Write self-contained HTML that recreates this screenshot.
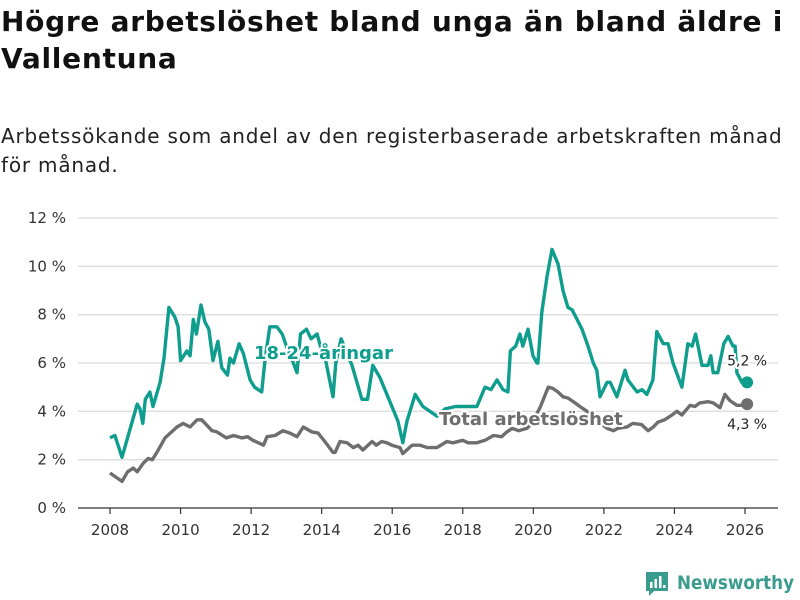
<!DOCTYPE html>
<html><head><meta charset="utf-8">
<style>
body{margin:0;width:800px;height:600px;background:#fff;font-family:"Liberation Sans","DejaVu Sans",sans-serif;overflow:hidden;position:relative}
h1{position:absolute;left:1px;top:3px;margin:0;font-size:28px;line-height:37px;font-weight:bold;color:#111;font-family:"DejaVu Sans","Liberation Sans",sans-serif;letter-spacing:0.72px;white-space:nowrap}
p.sub{position:absolute;left:1px;top:122px;margin:0;font-size:20px;line-height:29px;color:#222;font-family:"DejaVu Sans","Liberation Sans",sans-serif;letter-spacing:0.8px;white-space:nowrap}
svg{position:absolute;left:0;top:0}
</style></head><body>
<h1>Högre arbetslöshet bland unga än bland äldre i<br>Vallentuna</h1>
<p class="sub">Arbetssökande som andel av den registerbaserade arbetskraften månad<br>för månad.</p>
<svg id="chart" width="800" height="600"></svg>
<script>
const yTicks=[0,2,4,6,8,10,12];
const yTickLabels=["0 %","2 %","4 %","6 %","8 %","10 %","12 %"];
const xTicks=[2008,2010,2012,2014,2016,2018,2020,2022,2024,2026];
const youthYears=[2008.0,2008.14,2008.34,2008.77,2008.85,2008.93,2009.0,2009.13,2009.22,2009.42,2009.53,2009.67,2009.84,2009.93,2010.0,2010.18,2010.27,2010.36,2010.45,2010.58,2010.69,2010.8,2010.92,2011.06,2011.17,2011.33,2011.4,2011.5,2011.66,2011.78,2011.97,2012.1,2012.3,2012.4,2012.53,2012.73,2012.88,2013.0,2013.2,2013.3,2013.4,2013.57,2013.7,2013.87,2014.0,2014.1,2014.32,2014.4,2014.55,2014.86,2015.14,2015.3,2015.45,2015.65,2015.85,2015.99,2016.16,2016.3,2016.42,2016.65,2016.87,2017.27,2017.5,2017.8,2018.1,2018.4,2018.63,2018.8,2018.97,2019.14,2019.28,2019.35,2019.5,2019.62,2019.7,2019.85,2019.99,2020.1,2020.13,2020.24,2020.39,2020.53,2020.7,2020.84,2020.98,2021.1,2021.24,2021.38,2021.55,2021.7,2021.8,2021.89,2022.09,2022.18,2022.37,2022.6,2022.68,2022.94,2023.08,2023.22,2023.39,2023.5,2023.68,2023.82,2023.96,2024.21,2024.38,2024.5,2024.6,2024.78,2024.95,2025.03,2025.1,2025.23,2025.4,2025.52,2025.66,2025.72,2025.77,2025.91,2026.06];
const youthValues=[2.9,3.0,2.1,4.3,4.1,3.5,4.5,4.8,4.2,5.2,6.2,8.3,7.9,7.5,6.1,6.5,6.3,7.8,7.2,8.4,7.7,7.4,6.1,6.9,5.8,5.5,6.2,6.0,6.8,6.4,5.3,5.0,4.8,6.2,7.5,7.5,7.2,6.7,6.0,5.6,7.2,7.4,7.0,7.2,6.5,6.2,4.6,6.0,7.0,5.9,4.5,4.5,5.9,5.4,4.7,4.2,3.6,2.7,3.6,4.7,4.2,3.8,4.1,4.2,4.2,4.2,5.0,4.9,5.3,4.9,4.8,6.5,6.7,7.2,6.7,7.4,6.3,6.0,6.0,8.1,9.6,10.7,10.1,9.0,8.3,8.2,7.8,7.4,6.7,6.0,5.7,4.6,5.2,5.2,4.6,5.7,5.3,4.8,4.9,4.7,5.3,7.3,6.8,6.8,6.0,5.0,6.8,6.7,7.2,5.9,5.9,6.3,5.6,5.6,6.8,7.1,6.7,6.7,5.6,5.2,5.2];
const totalYears=[2008.0,2008.34,2008.5,2008.66,2008.77,2008.94,2009.08,2009.2,2009.33,2009.56,2009.9,2010.07,2010.27,2010.47,2010.6,2010.89,2011.03,2011.3,2011.5,2011.74,2011.9,2012.05,2012.35,2012.45,2012.68,2012.9,2013.1,2013.3,2013.48,2013.72,2013.9,2014.09,2014.32,2014.38,2014.52,2014.72,2014.9,2015.03,2015.17,2015.43,2015.55,2015.7,2015.85,2015.99,2016.22,2016.3,2016.56,2016.79,2017.0,2017.27,2017.55,2017.72,2018.0,2018.15,2018.4,2018.63,2018.87,2019.1,2019.25,2019.4,2019.58,2019.82,2019.95,2020.19,2020.42,2020.55,2020.7,2020.84,2020.98,2021.18,2021.32,2021.52,2021.75,2021.9,2022.09,2022.27,2022.4,2022.65,2022.82,2023.07,2023.25,2023.4,2023.53,2023.72,2023.93,2024.07,2024.21,2024.44,2024.58,2024.72,2024.95,2025.1,2025.29,2025.43,2025.57,2025.77,2025.91,2026.06];
const totalValues=[1.45,1.1,1.5,1.65,1.5,1.85,2.05,2.0,2.3,2.9,3.35,3.5,3.35,3.65,3.65,3.2,3.15,2.9,3.0,2.9,2.95,2.8,2.6,2.95,3.0,3.2,3.1,2.95,3.35,3.15,3.1,2.75,2.3,2.3,2.75,2.7,2.5,2.6,2.4,2.75,2.6,2.75,2.7,2.6,2.5,2.25,2.6,2.6,2.5,2.5,2.75,2.7,2.8,2.7,2.7,2.8,3.0,2.95,3.15,3.3,3.2,3.3,3.5,4.15,5.0,4.95,4.8,4.6,4.55,4.35,4.2,4.0,3.75,3.5,3.3,3.2,3.3,3.35,3.5,3.45,3.2,3.35,3.55,3.65,3.85,4.0,3.85,4.25,4.2,4.35,4.4,4.35,4.15,4.7,4.45,4.25,4.25,4.3];
const NS="http://www.w3.org/2000/svg";
const svg=document.getElementById('chart');
const X0=78,X1=778,Y0=508,Y1=218;
function xs(y){return 110+(y-2008)*(745-110)/18;}
function ys(v){return Y0-(v/12)*(Y0-Y1);}
function mk(tag,attrs){const e=document.createElementNS(NS,tag);for(const k in attrs)e.setAttribute(k,attrs[k]);svg.appendChild(e);return e;}
yTicks.forEach((t,i)=>{
  if(t>0){const g=mk('line',{x1:X0,x2:X1,y1:ys(t),y2:ys(t),stroke:'#dcdcdc','stroke-width':1.3});
  
  }
  const l=mk('text',{x:66,y:ys(t)+5,'text-anchor':'end','font-size':15,fill:'#333','font-family':'DejaVu Sans, Liberation Sans, sans-serif'});
  l.textContent=yTickLabels[i];
  
  
});
const ax=mk('line',{x1:X0,x2:X1,y1:Y0,y2:Y0,stroke:'#333','stroke-width':1.3});


xTicks.forEach(t=>{
  const tk=mk('line',{x1:xs(t),x2:xs(t),y1:Y0,y2:Y0+6,stroke:'#333','stroke-width':1.2});
  
  
  const l=mk('text',{x:xs(t),y:Y0+27,'text-anchor':'middle','font-size':15,fill:'#333','font-family':'DejaVu Sans, Liberation Sans, sans-serif'});
  l.textContent=t;
  
  
});
function pathD(xa,va){return xa.map((y,i)=>(i?'L':'M')+xs(y).toFixed(1)+','+ys(va[i]).toFixed(1)).join('');}
const pt=mk('path',{d:pathD(totalYears,totalValues),fill:'none',stroke:'#6e6e6e','stroke-width':3.4,'stroke-linejoin':'round'});


const py=mk('path',{d:pathD(youthYears,youthValues),fill:'none',stroke:'#0f9e8e','stroke-width':3.4,'stroke-linejoin':'round'});


const lt=totalYears.length-1, ly=youthYears.length-1;
const d1=mk('circle',{cx:xs(youthYears[ly]),cy:ys(youthValues[ly]),r:6,fill:'#0f9e8e'});


const d2=mk('circle',{cx:xs(totalYears[lt]),cy:ys(totalValues[lt]),r:6,fill:'#6e6e6e'});


function lab(txt,x,y,size,fill,w,name,anchor){
  const t=mk('text',{x:x,y:y,'font-size':size,fill:fill,'font-weight':w,'text-anchor':anchor||'start',stroke:'#fff','stroke-width':4,'paint-order':'stroke','stroke-linejoin':'round','font-family':'DejaVu Sans, Liberation Sans, sans-serif'});
  t.textContent=txt;
  
  
}
lab('18-24-åringar',254,359,18,'#0f9e8e','bold','youth-series-label');
lab('Total arbetslöshet',439,425,18,'#6e6e6e','bold','total-series-label');
lab('5,2 %',xs(youthYears[ly]),ys(youthValues[ly])-17,14,'#222','normal','youth-end-value','middle');
lab('4,3 %',xs(totalYears[lt]),ys(totalValues[lt])+25,14,'#222','normal','total-end-value','middle');
</script>
<svg width="800" height="600" style="pointer-events:none">
<path d="M646 572h22v19h-14l-5 5v-5h-3z" fill="#3a9b8f"/>
<rect x="650" y="582" width="2.5" height="6" fill="#fff"/><rect x="654.5" y="579" width="2.5" height="9" fill="#fff"/><rect x="659" y="576" width="2.5" height="12" fill="#fff"/><rect x="663" y="585" width="2.5" height="3" fill="#fff"/>
<text x="677" y="589" font-size="19" font-weight="bold" fill="#3a9b8f" textLength="117" lengthAdjust="spacingAndGlyphs" font-family="DejaVu Sans, Liberation Sans, sans-serif">Newsworthy</text>
</svg>
</body></html>
